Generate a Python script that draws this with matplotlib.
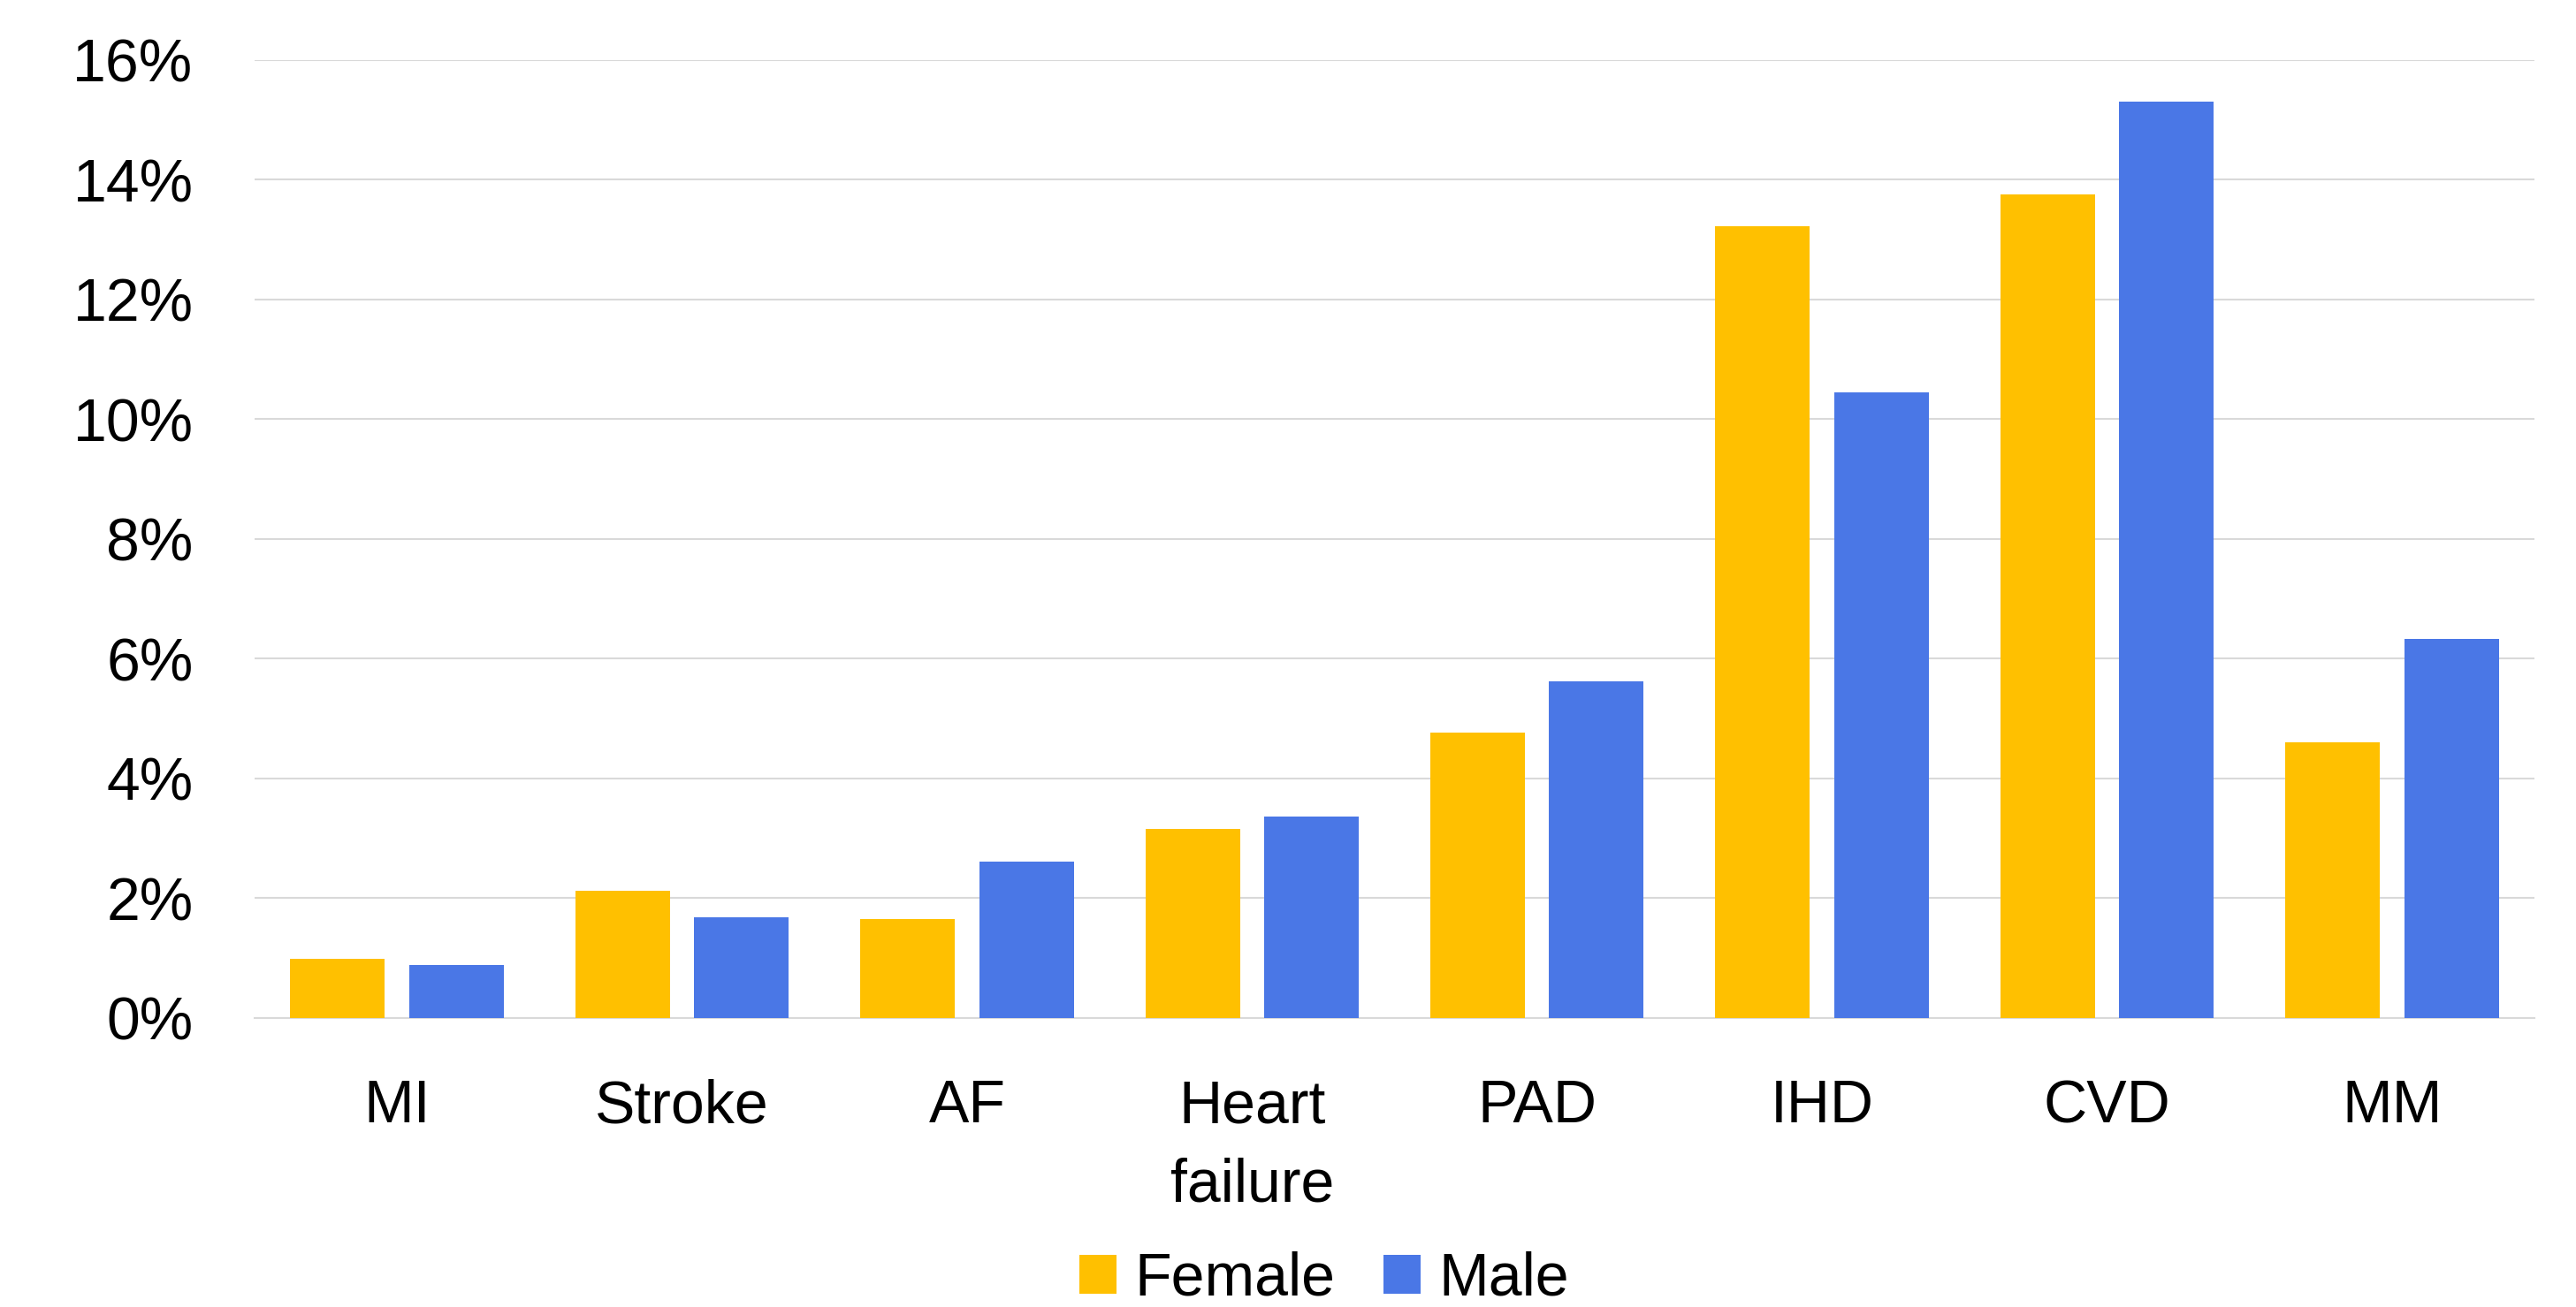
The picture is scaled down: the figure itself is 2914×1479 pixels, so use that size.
#!/usr/bin/env python3

import matplotlib.pyplot as plt
import numpy as np
from matplotlib.patches import Patch
from matplotlib.ticker import FuncFormatter

categories = ["MI", "Stroke", "AF", "Heart\nfailure", "PAD", "IHD", "CVD", "MM"]
female = [0.99, 2.12, 1.65, 3.16, 4.76, 13.22, 13.76, 4.60]
male = [0.88, 1.68, 2.61, 3.36, 5.62, 10.45, 15.30, 6.33]
y_ticks = [0, 2, 4, 6, 8, 10, 12, 14, 16]

FEMALE_COLOR = "#FFC000"
MALE_COLOR = "#4A77E6"
GRID_COLOR = "#D9D9D9"

plt.rcParams["font.family"] = ["Liberation Sans Narrow", "Liberation Sans", "DejaVu Sans"]
plt.rcParams["font.size"] = 49


def main() -> int:
    fig = plt.figure(figsize=(29.14, 14.79), dpi=100)
    ax = fig.add_axes([0.0988, 0.2211, 0.8851, 0.7331])

    x = np.arange(len(categories))
    width = 0.332
    offset = 0.2085
    ax.bar(x - offset, female, width, color=FEMALE_COLOR, zorder=3)
    ax.bar(x + offset, male, width, color=MALE_COLOR, zorder=3)

    ax.set_xlim(-0.5, len(categories) - 0.5)
    ax.set_ylim(0, 16)
    ax.set_yticks(y_ticks)
    ax.yaxis.set_major_formatter(FuncFormatter(lambda v, _: f"{v:.0f}%"))
    ax.set_xticks(x)
    ax.set_xticklabels(categories, linespacing=1.5)

    ax.grid(axis="y", color=GRID_COLOR, linewidth=1.5, zorder=0)
    for side in ("top", "right", "left"):
        ax.spines[side].set_visible(False)
    ax.spines["bottom"].set_color(GRID_COLOR)
    ax.spines["bottom"].set_linewidth(1.5)
    ax.tick_params(axis="y", length=0, pad=50)
    ax.tick_params(axis="x", length=0, pad=49)

    handles = [
        Patch(facecolor=FEMALE_COLOR, label="Female"),
        Patch(facecolor=MALE_COLOR, label="Male"),
    ]
    fig.legend(
        handles=handles,
        loc="center",
        bbox_to_anchor=(0.514, 0.021),
        ncol=2,
        frameon=False,
        handlelength=0.62,
        handleheight=0.62,
        handletextpad=0.3,
        columnspacing=0.8,
        borderpad=0,
    )

    fig.savefig("out.png", dpi=100)
    plt.close(fig)
    return 0


if __name__ == "__main__":
    raise SystemExit(main())
